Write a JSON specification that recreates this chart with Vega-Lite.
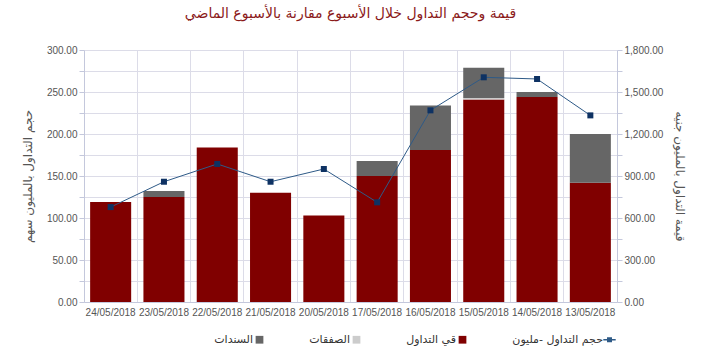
{
  "$schema": "https://vega.github.io/schema/vega-lite/v6.json",
  "width": 533,
  "height": 252,
  "autosize": {"type": "none"},
  "padding": {"left": 84, "top": 50, "right": 103, "bottom": 56},
  "background": "white",
  "config": {
    "font": "Liberation Sans, DejaVu Sans, sans-serif",
    "view": {"stroke": null}
  },
  "title": {
    "text": "قيمة وحجم التداول خلال الأسبوع مقارنة بالأسبوع الماضي",
    "color": "#8b1a1a",
    "fontSize": 14,
    "fontWeight": "normal",
    "font": "DejaVu Sans, sans-serif",
    "offset": 24,
    "anchor": "middle"
  },
  "datasets": {
    "bars": [
      {"date": "24/05/2018", "series": "قي التداول", "ord": 1, "value": 119},
      {"date": "23/05/2018", "series": "قي التداول", "ord": 1, "value": 125},
      {"date": "23/05/2018", "series": "السندات", "ord": 3, "value": 7},
      {"date": "22/05/2018", "series": "قي التداول", "ord": 1, "value": 184},
      {"date": "21/05/2018", "series": "قي التداول", "ord": 1, "value": 130},
      {"date": "20/05/2018", "series": "قي التداول", "ord": 1, "value": 103},
      {"date": "17/05/2018", "series": "قي التداول", "ord": 1, "value": 150},
      {"date": "17/05/2018", "series": "السندات", "ord": 3, "value": 18},
      {"date": "16/05/2018", "series": "قي التداول", "ord": 1, "value": 181},
      {"date": "16/05/2018", "series": "السندات", "ord": 3, "value": 53},
      {"date": "15/05/2018", "series": "قي التداول", "ord": 1, "value": 241},
      {"date": "15/05/2018", "series": "الصفقات", "ord": 2, "value": 2},
      {"date": "15/05/2018", "series": "السندات", "ord": 3, "value": 36},
      {"date": "14/05/2018", "series": "قي التداول", "ord": 1, "value": 244},
      {"date": "14/05/2018", "series": "السندات", "ord": 3, "value": 6},
      {"date": "13/05/2018", "series": "قي التداول", "ord": 1, "value": 142},
      {"date": "13/05/2018", "series": "السندات", "ord": 3, "value": 58}
    ],
    "line": [
      {"date": "24/05/2018", "value": 678},
      {"date": "23/05/2018", "value": 859},
      {"date": "22/05/2018", "value": 986},
      {"date": "21/05/2018", "value": 859},
      {"date": "20/05/2018", "value": 950},
      {"date": "17/05/2018", "value": 712},
      {"date": "16/05/2018", "value": 1369},
      {"date": "15/05/2018", "value": 1605},
      {"date": "14/05/2018", "value": 1593},
      {"date": "13/05/2018", "value": 1333}
    ]
  },
  "layer": [
    {
      "data": {"name": "bars"},
      "mark": {"type": "bar", "width": {"band": 0.77}},
      "encoding": {
        "x": {
          "field": "date", "type": "nominal", "sort": null,
          "scale": {"paddingInner": 0, "paddingOuter": 0},
          "axis": {
            "title": null, "labelAngle": 0, "grid": true, "bandPosition": 0,
            "gridColor": "#dcdce8", "ticks": false, "domainColor": "#c4c8dc",
            "labelColor": "#555555", "labelFontSize": 10, "labelPadding": 5
          }
        },
        "y": {
          "field": "value", "type": "quantitative", "stack": "zero",
          "scale": {"domain": [0, 300]},
          "axis": {
            "values": [0, 25, 50, 75, 100, 125, 150, 175, 200, 225, 250, 275, 300],
            "labelExpr": "datum.value % 50 === 0 ? format(datum.value, '.2f') : ''",
            "title": "حجم التداول بالمليون سهم",
            "grid": true, "gridColor": "#dcdce8",
            "domainColor": "#c4c8dc", "tickColor": "#c4c8dc", "tickSize": 5,
            "labelColor": "#555555", "labelFontSize": 10,
            "titleColor": "#555555", "titleFontSize": 12, "titleFontWeight": "normal",
            "titleFont": "DejaVu Sans, sans-serif", "titlePadding": 12
          }
        },
        "color": {
          "field": "series", "type": "nominal",
          "scale": {
            "domain": ["السندات", "الصفقات", "قي التداول", "حجم التداول -مليون"],
            "range": ["#666666", "#cccccc", "#800000", "#2e5a87"]
          },
          "legend": {
            "title": null, "orient": "none", "direction": "horizontal",
            "legendX": 170, "legendY": 284,
            "labelFontSize": 11, "labelColor": "#333333", "labelFont": "DejaVu Sans, sans-serif",
            "labelAlign": "right", "labelOffset": -12,
            "symbolSize": 60, "columnPadding": 45,
            "encode": {
              "symbols": {
                "update": {
                  "shape": {"signal": "datum.value === 'حجم التداول -مليون' ? 'M-1.6,0H1.6M-0.45,-0.45H0.45V0.45H-0.45Z' : 'square'"},
                  "fill": {"signal": "datum.value === 'حجم التداول -مليون' ? '#0e3263' : scale('color', datum.value)"},
                  "stroke": {"signal": "datum.value === 'حجم التداول -مليون' ? '#2e5a87' : 'transparent'"},
                  "strokeWidth": {"signal": "datum.value === 'حجم التداول -مليون' ? 1.5 : 0"}
                }
              }
            }
          }
        },
        "order": {"field": "ord", "type": "quantitative"}
      }
    },
    {
      "data": {"name": "line"},
      "mark": {"type": "line", "strokeWidth": 1},
      "encoding": {
        "x": {"field": "date", "type": "nominal", "sort": null},
        "y": {
          "field": "value", "type": "quantitative",
          "scale": {"domain": [0, 1800]},
          "axis": {
            "orient": "right",
            "values": [0, 150, 300, 450, 600, 750, 900, 1050, 1200, 1350, 1500, 1650, 1800],
            "labelExpr": "datum.value % 300 === 0 ? format(datum.value, ',.2f') : ''",
            "title": "قيمة التداول بالمليون جنيه",
            "grid": false,
            "domainColor": "#c4c8dc", "tickColor": "#c4c8dc", "tickSize": 5,
            "labelColor": "#555555", "labelFontSize": 10,
            "titleColor": "#555555", "titleFontSize": 12, "titleFontWeight": "normal",
            "titleFont": "DejaVu Sans, sans-serif", "titlePadding": 10
          }
        },
        "color": {
          "datum": "حجم التداول -مليون",
          "legend": {
            "title": null, "orient": "none", "direction": "horizontal",
            "legendX": 170, "legendY": 284,
            "labelFontSize": 11, "labelColor": "#333333", "labelFont": "DejaVu Sans, sans-serif",
            "labelAlign": "right", "labelOffset": -12,
            "symbolSize": 60, "columnPadding": 45,
            "encode": {
              "symbols": {
                "update": {
                  "shape": {"signal": "datum.value === 'حجم التداول -مليون' ? 'M-1.6,0H1.6M-0.45,-0.45H0.45V0.45H-0.45Z' : 'square'"},
                  "fill": {"signal": "datum.value === 'حجم التداول -مليون' ? '#0e3263' : scale('color', datum.value)"},
                  "stroke": {"signal": "datum.value === 'حجم التداول -مليون' ? '#2e5a87' : 'transparent'"},
                  "strokeWidth": {"signal": "datum.value === 'حجم التداول -مليون' ? 1.5 : 0"}
                }
              }
            }
          }
        }
      }
    },
    {
      "data": {"name": "line"},
      "mark": {"type": "point", "shape": "square", "filled": true, "size": 36, "color": "#0e3263", "opacity": 1},
      "encoding": {
        "x": {"field": "date", "type": "nominal", "sort": null},
        "y": {"field": "value", "type": "quantitative", "scale": {"domain": [0, 1800]}, "axis": null}
      }
    }
  ],
  "resolve": {"scale": {"y": "independent"}}
}
